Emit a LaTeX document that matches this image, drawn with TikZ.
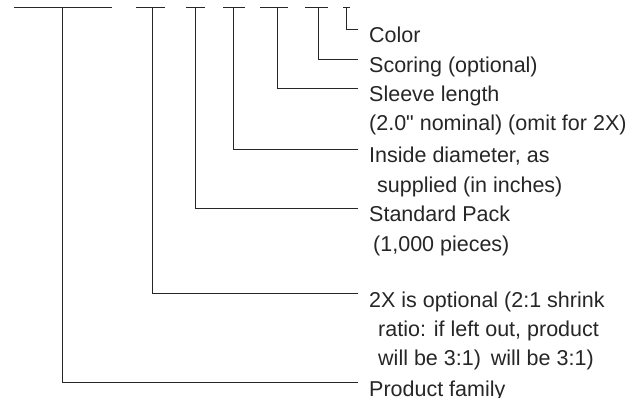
\documentclass[tikz,border=0pt]{standalone}
\usepackage{fontspec}
\setmainfont{Liberation Sans}[Ligatures=TeXOff]
\begin{document}
\begin{tikzpicture}[x=1pt,y=-1pt,
  lbl/.style={anchor=base west, inner sep=0pt, font=\fontsize{21.5}{26}\selectfont, text=black!85},
  lead/.style={line width=1pt, draw=black!85}]
\useasboundingbox (0,0) rectangle (642,398);
% labels
\node[lbl] (col)  at (369,43)  {Color};
\node[lbl] (sco)  at (369,73)  {Scoring (optional)};
\node[lbl] (sle)  at (369,102) {Sleeve length};
\node[lbl] (sle2) at (369,131) {(2.0" nominal) (omit for 2X)};
\node[lbl] (ins)  at (369,163) {Inside diameter, as};
\node[lbl] (ins2) at (377,193) {supplied (in inches)};
\node[lbl] (std)  at (369,222) {Standard Pack};
\node[lbl] (std2) at (373,251) {(1,000 pieces)};
\node[lbl] (twx)  at (369,307) {2X is optional (2:1 shrink};
\node[lbl] (twx2) at (378,336) {ratio: if left out, product};
\node[lbl] (twx3) at (378,365) {will be 3:1)\hspace{10pt}will be 3:1)};
\node[lbl] (pf)   at (369,396) {Product family};
% top bar segments
\coordinate (aL) at (14,7.5);  \coordinate (aR) at (112,7.5); \coordinate (a) at (62,7.5);
\coordinate (bL) at (136,7.5); \coordinate (bR) at (165,7.5); \coordinate (b) at (152,7.5);
\coordinate (cL) at (186,7.5); \coordinate (cR) at (205,7.5); \coordinate (c) at (195,7.5);
\coordinate (dL) at (223,7.5); \coordinate (dR) at (245,7.5); \coordinate (d) at (233,7.5);
\coordinate (eL) at (260,7.5); \coordinate (eR) at (288,7.5); \coordinate (e) at (277,7.5);
\coordinate (fL) at (305,7.5); \coordinate (fR) at (328,7.5); \coordinate (f) at (318,7.5);
\coordinate (gL) at (343,7.5); \coordinate (gR) at (350,7.5); \coordinate (g) at (346,7.5);
\foreach \s in {a,b,c,d,e,f,g} {\draw[lead] (\s L) -- (\s R);}
% leaders
\draw[lead] (a) |- ([shift={(-11,-13.5)}]pf.base west);
\draw[lead] (b) |- ([shift={(-11,-13.5)}]twx.base west);
\draw[lead] (c) |- ([shift={(-11,-13.5)}]std.base west);
\draw[lead] (d) |- ([shift={(-11,-13.5)}]ins.base west);
\draw[lead] (e) |- ([shift={(-11,-13.5)}]sle.base west);
\draw[lead] (f) |- ([shift={(-11,-13.5)}]sco.base west);
\draw[lead] (g) |- ([shift={(-11,-13.5)}]col.base west);
\end{tikzpicture}
\end{document}
